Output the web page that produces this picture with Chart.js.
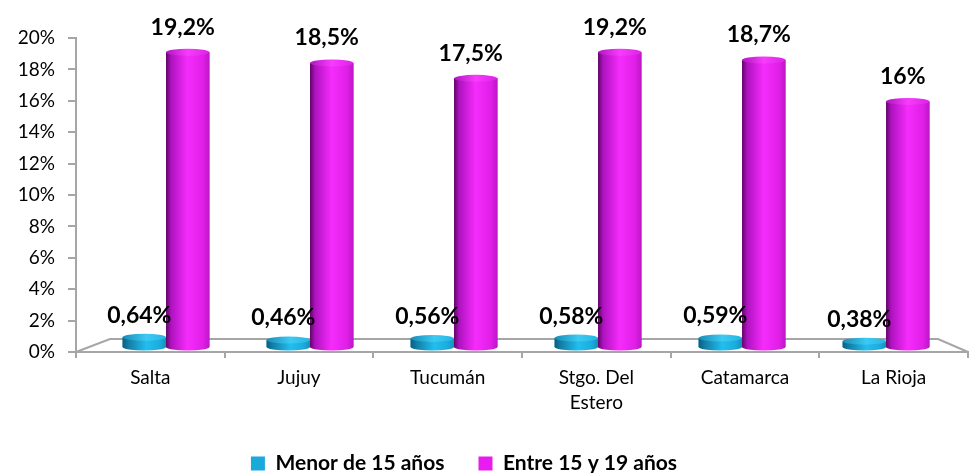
<!DOCTYPE html>
<html><head><meta charset="utf-8">
<script src="https://cdn.jsdelivr.net/npm/chart.js@4.4.1/dist/chart.umd.min.js"></script>
<style>html,body{margin:0;padding:0;background:#fff}#wrap{width:969px;height:473px}</style>
</head><body><div id="wrap"><canvas id="c" width="969" height="473"></canvas></div>
<script>
const categories = ['Salta', 'Jujuy', 'Tucumán', ['Stgo. Del', 'Estero'], 'Catamarca', 'La Rioja'];
const seriesNames = ['Menor de 15 años', 'Entre 15 y 19 años'];
const menor15 = [0.64, 0.46, 0.56, 0.58, 0.59, 0.38];
const entre15y19 = [19.2, 18.5, 17.5, 19.2, 18.7, 16];
const yTicks = [0, 2, 4, 6, 8, 10, 12, 14, 16, 18, 20];

const FONT = 'Lato, "Open Sans", sans-serif';
const AXIS = '#A6A6A6';
const palettes = [
  {solid:'#19A9DA',
   stops:[[0,'#0B5E7E'],[0.15,'#127FA8'],[0.55,'#22BEEE'],[0.85,'#1CACDC'],[1,'#1590BC']],
   cap:[[0,'#1A8CB6'],[0.55,'#3CCAF3'],[1,'#28B4E2']]},
  {solid:'#E81CF0',
   stops:[[0,'#5E0766'],[0.12,'#B012C0'],[0.5,'#F52CFC'],[0.85,'#E01FE8'],[1,'#BE16C8']],
   cap:[[0,'#B214C2'],[0.5,'#F73CFC'],[1,'#DE22E6']]}
];
const fmt = v => String(v).replace('.', ',') + '%';

const cylinderPlugin = {
  id: 'cyl',
  beforeDatasetsDraw(chart) {
    const ctx = chart.ctx, a = chart.chartArea;
    ctx.save();
    ctx.strokeStyle = AXIS; ctx.lineWidth = 2;
    ctx.beginPath();
    ctx.moveTo(a.left, a.bottom);
    ctx.lineTo(a.left + 34, a.bottom - 13);
    ctx.lineTo(a.right - 30, a.bottom - 13);
    ctx.lineTo(a.right, a.bottom);
    ctx.stroke();
    ctx.restore();
  },
  afterDatasetsDraw(chart) {
    const ctx = chart.ctx;
    ctx.save();
    chart.data.datasets.forEach((ds, di) => {
      const meta = chart.getDatasetMeta(di);
      const pal = palettes[di];
      meta.data.forEach((bar) => {
        const p = bar.getProps(['x', 'y', 'base', 'width'], true);
        const l = p.x - p.width / 2, r = p.x + p.width / 2, ry = 3.5;
        const g = ctx.createLinearGradient(l, 0, r, 0);
        pal.stops.forEach(s => g.addColorStop(s[0], s[1]));
        ctx.fillStyle = g;
        ctx.beginPath();
        ctx.moveTo(l, p.y);
        ctx.lineTo(l, p.base);
        ctx.ellipse(p.x, p.base, p.width / 2, ry, 0, Math.PI, 0, true);
        ctx.lineTo(r, p.y);
        ctx.closePath();
        ctx.fill();
        const gc = ctx.createLinearGradient(l, 0, r, 0);
        pal.cap.forEach(s => gc.addColorStop(s[0], s[1]));
        ctx.fillStyle = gc;
        ctx.beginPath();
        ctx.ellipse(p.x, p.y, p.width / 2, ry, 0, 0, Math.PI * 2);
        ctx.fill();
      });
    });
    ctx.fillStyle = '#000';
    ctx.font = 'bold 23px ' + FONT;
    ctx.textAlign = 'center';
    ctx.textBaseline = 'middle';
    chart.data.datasets.forEach((ds, di) => {
      const meta = chart.getDatasetMeta(di);
      meta.data.forEach((bar, i) => {
        ctx.fillText(fmt(ds.data[i].y), bar.x - 5, bar.y - (di === 0 ? 22 : 25));
      });
    });
    ctx.restore();
  },
  afterLayout(chart) {
    if (chart.legend) { chart.legend.left -= 20; chart.legend.right -= 20; }
  }
};

const toPoints = arr => arr.map((v, i) => ({x: i, y: v}));

new Chart(document.getElementById('c'), {
  type: 'bar',
  data: {
    labels: categories,
    datasets: [
      {label: seriesNames[0], data: toPoints(menor15), xAxisID: 'xb', yAxisID: 'yb',
       backgroundColor: palettes[0].solid, categoryPercentage: 1.06, barPercentage: 1.0},
      {label: seriesNames[1], data: toPoints(entre15y19), xAxisID: 'xb', yAxisID: 'yb',
       backgroundColor: palettes[1].solid, categoryPercentage: 1.06, barPercentage: 1.0}
    ]
  },
  options: {
    responsive: false,
    devicePixelRatio: 1,
    animation: false,
    layout: {padding: {top: 38, right: 1, left: 0, bottom: -11}},
    plugins: {
      tooltip: {enabled: false},
      legend: {
        position: 'bottom',
        labels: {font: {family: FONT, size: 21, weight: 'bold'}, color: '#000', boxWidth: 14, boxHeight: 14, padding: 34}
      }
    },
    scales: {
      x: {
        type: 'category', position: 'bottom', offset: true,
        grid: {offset: true, drawOnChartArea: false, drawTicks: true, tickLength: 6, color: AXIS, lineWidth: 2},
        border: {color: AXIS, width: 2},
        ticks: {font: {family: FONT, size: 19, lineHeight: 1.3}, color: '#000', padding: 8, maxRotation: 0, autoSkip: false},
        afterFit: s => { s.height = 67; }
      },
      y: {
        type: 'linear', position: 'left', min: 0, max: 20,
        afterBuildTicks: s => { s.ticks = yTicks.map(v => ({value: v})); },
        grid: {drawOnChartArea: false, drawTicks: true, tickLength: 8, color: AXIS, lineWidth: 2},
        border: {color: AXIS, width: 2},
        ticks: {font: {family: FONT, size: 19}, color: '#000', padding: 13, callback: v => v + '%'},
        afterFit: s => { s.width = 76; }
      },
      xb: {type: 'linear', display: false, offset: false, min: -0.625, max: 5.569},
      yb: {type: 'linear', display: false, min: -0.327, max: 20.13}
    }
  },
  plugins: [cylinderPlugin]
});
</script>
</body></html>
